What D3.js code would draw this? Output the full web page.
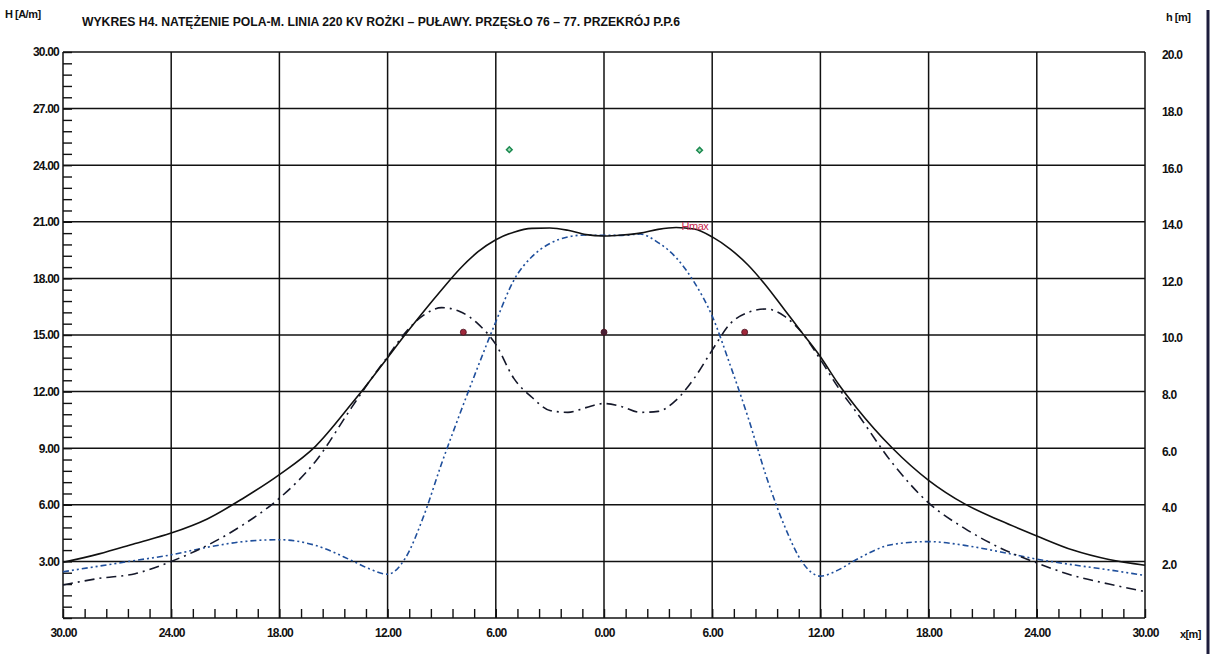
<!DOCTYPE html>
<html>
<head>
<meta charset="utf-8">
<script src="https://cdn.jsdelivr.net/npm/d3@7"></script>
<style>
  body { margin: 0; background: #fff; }
  svg text { font-family: "Liberation Sans", Arial, sans-serif; font-weight: bold; fill: #111; }
</style>
</head>
<body>
<div class="chart"></div>
<script>
var width = 1211,
    height = 654;

// x positions across the corridor [m]
var xPos = [-30,-28,-26,-24,-22,-20,-18,-16,-14,-13,-12,-11,-10,-9,-8,-7,-6,-5,-4,-3,-2,-1,
            0,1,2,3,4,5,6,7,8,9,10,11,12,13,14,16,18,20,22,24,26,28,30];

// total field H [A/m] (solid)
var hTotal = [2.95,3.4,3.95,4.5,5.25,6.35,7.6,9.1,11.35,12.55,13.8,15.05,16.25,17.4,18.5,19.4,20.05,20.45,20.65,20.67,20.55,20.32,
              20.25,20.3,20.4,20.6,20.7,20.62,20.2,19.55,18.7,17.6,16.35,15.1,13.85,12.4,11.15,9.0,7.3,6.05,5.15,4.35,3.6,3.1,2.8];

// component (dash-dot, black)
var hCompA = [1.75,2.1,2.35,3.0,3.85,4.95,6.35,8.3,11.15,12.55,13.85,15.15,16.05,16.45,16.25,15.6,14.5,12.7,11.7,11.0,10.9,11.15,
              11.37,11.2,10.9,10.95,11.55,12.7,14.2,15.6,16.2,16.38,16.0,15.1,13.7,12.2,10.9,8.2,6.1,4.75,3.7,2.92,2.25,1.8,1.4];

// component (dash-dot-dot, blue)
var hCompB = [2.45,2.75,3.05,3.35,3.75,4.05,4.15,3.85,3.05,2.6,2.32,3.2,5.4,8.2,10.8,13.3,15.7,17.9,19.15,19.85,20.2,20.3,
              20.28,20.28,20.35,19.9,19.1,17.8,16.0,13.4,10.6,7.5,4.9,2.95,2.22,2.55,3.1,3.9,4.05,3.85,3.5,3.12,2.82,2.55,2.25];

// conductors [x m, h m]
var phaseX = [-7.8, 0, 7.8];
var phaseH = [10.1, 10.1, 10.1];
var groundX = [-5.25, 5.3];
var groundH = [16.55, 16.53];

var hmaxX = 4.3, hmaxVal = 20.7;

// ticks
var xTicks = [-30,-24,-18,-12,-6,0,6,12,18,24,30];
var hTicks = [3,6,9,12,15,18,21,24,27,30];
var hRightTicks = [2,4,6,8,10,12,14,16,18,20];

var margin = {left: 63, right: 66, top: 52, bottom: 36};

var x = d3.scaleLinear().domain([-30, 30]).range([margin.left, width - margin.right]);
var y = d3.scaleLinear().domain([0, 30]).range([height - margin.bottom, margin.top]);
var yR = d3.scaleLinear().domain([0, 20]).range([height - margin.bottom, margin.top]);

var svg = d3.select(".chart").append("svg")
            .attr("width", width)
            .attr("height", height);

// grid
svg.append("g")
   .selectAll("line")
   .data(xTicks)
   .enter().append("line")
   .attr("x1", d => x(d)).attr("x2", d => x(d))
   .attr("y1", y(30)).attr("y2", y(0))
   .style("stroke", "#111").style("stroke-width", 1.5);

svg.append("g")
   .selectAll("line")
   .data([0].concat(hTicks))
   .enter().append("line")
   .attr("x1", x(-30)).attr("x2", x(30))
   .attr("y1", d => y(d)).attr("y2", d => y(d))
   .style("stroke", "#111").style("stroke-width", 1.5);

// minor ticks on the left and bottom
var leftMinor = d3.axisRight(y).tickValues(d3.range(0, 30.01, 0.6)).tickSize(9).tickFormat("");
svg.append("g").attr("transform", "translate(" + x(-30) + ",0)").call(leftMinor)
   .call(g => g.select(".domain").remove())
   .selectAll("line").style("stroke", "#111").style("stroke-width", 1.4);

var bottomMinor = d3.axisTop(x).tickValues(d3.range(-30, 30.01, 1.2)).tickSize(9).tickFormat("");
svg.append("g").attr("transform", "translate(0," + y(0) + ")").call(bottomMinor)
   .call(g => g.select(".domain").remove())
   .selectAll("line").style("stroke", "#111").style("stroke-width", 1.4);

function labelStyle(sel) {
    sel.style("font-size", "12px").style("letter-spacing", "-0.8px")
       .style("font-family", "'Liberation Sans', Arial, sans-serif").style("font-weight", "bold")
       .attr("fill", "#111");
}

// axis labels
var leftAxis = d3.axisLeft(y).tickValues(hTicks).tickSize(0).tickPadding(4).tickFormat(d3.format(".2f"));
svg.append("g").attr("transform", "translate(" + x(-30) + ",0)").call(leftAxis)
   .call(g => g.select(".domain").remove())
   .selectAll("text").call(labelStyle);

var bottomAxis = d3.axisBottom(x).tickValues(xTicks).tickSize(0).tickPadding(10)
   .tickFormat(d => d3.format(".2f")(Math.abs(d)));
svg.append("g").attr("transform", "translate(0," + y(0) + ")").call(bottomAxis)
   .call(g => g.select(".domain").remove())
   .selectAll("text").call(labelStyle);

var rightAxis = d3.axisRight(yR).tickValues(hRightTicks).tickSize(0).tickPadding(17).tickFormat(d3.format(".1f"));
svg.append("g").attr("transform", "translate(" + x(30) + ",3)").call(rightAxis)
   .call(g => g.select(".domain").remove())
   .selectAll("text").call(labelStyle);

// titles
svg.append("text").attr("x", 5).attr("y", 18).style("font-size", "11px").style("letter-spacing", "-0.5px").text("H [A/m]");
svg.append("text").attr("x", 1166).attr("y", 21).style("font-size", "11px").style("letter-spacing", "-0.5px").text("h [m]");
svg.append("text").attr("x", 1180).attr("y", 638).style("font-size", "11px").style("letter-spacing", "-0.6px").text("x[m]");
svg.append("text").attr("x", 82).attr("y", 26).style("font-size", "12px")
   .attr("textLength", 598).attr("lengthAdjust", "spacingAndGlyphs")
   .text("WYKRES H4. NATĘŻENIE POLA-M. LINIA 220 KV ROŻKI – PUŁAWY. PRZĘSŁO 76 – 77. PRZEKRÓJ P.P.6");

// curves
function lineOf(values) {
    return d3.line()
             .x((d, i) => x(xPos[i]))
             .y(d => y(d))
             .curve(d3.curveMonotoneX)(values);
}

svg.append("path").attr("d", lineOf(hCompB))
   .style("fill", "none").style("stroke", "#1f4f9c").style("stroke-width", 1.6)
   .style("stroke-dasharray", "6,3,2,3,2,3");

svg.append("path").attr("d", lineOf(hCompA))
   .style("fill", "none").style("stroke", "#15182a").style("stroke-width", 1.6)
   .style("stroke-dasharray", "10,5,2,5");

svg.append("path").attr("d", lineOf(hTotal))
   .style("fill", "none").style("stroke", "#111").style("stroke-width", 1.6);

// conductors
svg.selectAll("circle.phase")
   .data(phaseX)
   .enter().append("circle")
   .attr("class", "phase")
   .attr("cx", d => x(d))
   .attr("cy", (d, i) => yR(phaseH[i]))
   .attr("r", 3)
   .style("fill", (d, i) => i == 1 ? "#4a2035" : "#a0283a")
   .style("stroke", "#4a1020").style("stroke-width", 0.8);

svg.selectAll("path.ground")
   .data(groundX)
   .enter().append("path")
   .attr("class", "ground")
   .attr("d", d3.symbol().type(d3.symbolSquare).size(16))
   .attr("transform", (d, i) => "translate(" + x(d) + "," + yR(groundH[i]) + ") rotate(45)")
   .style("fill", "#9fdcb6").style("stroke", "#1c8a50").style("stroke-width", 1.5);

svg.append("text").attr("x", x(hmaxX)).attr("y", y(hmaxVal) + 3)
   .style("font-size", "11px").style("font-weight", "normal").style("letter-spacing", "-0.5px")
   .style("fill", "#c8284e").text("Hmax");

// scanner edge on the right
svg.append("line").attr("x1", 1208).attr("x2", 1208).attr("y1", 10).attr("y2", height)
   .style("stroke", "#1c1c3c").style("stroke-width", 3);
</script>
</body>
</html>
